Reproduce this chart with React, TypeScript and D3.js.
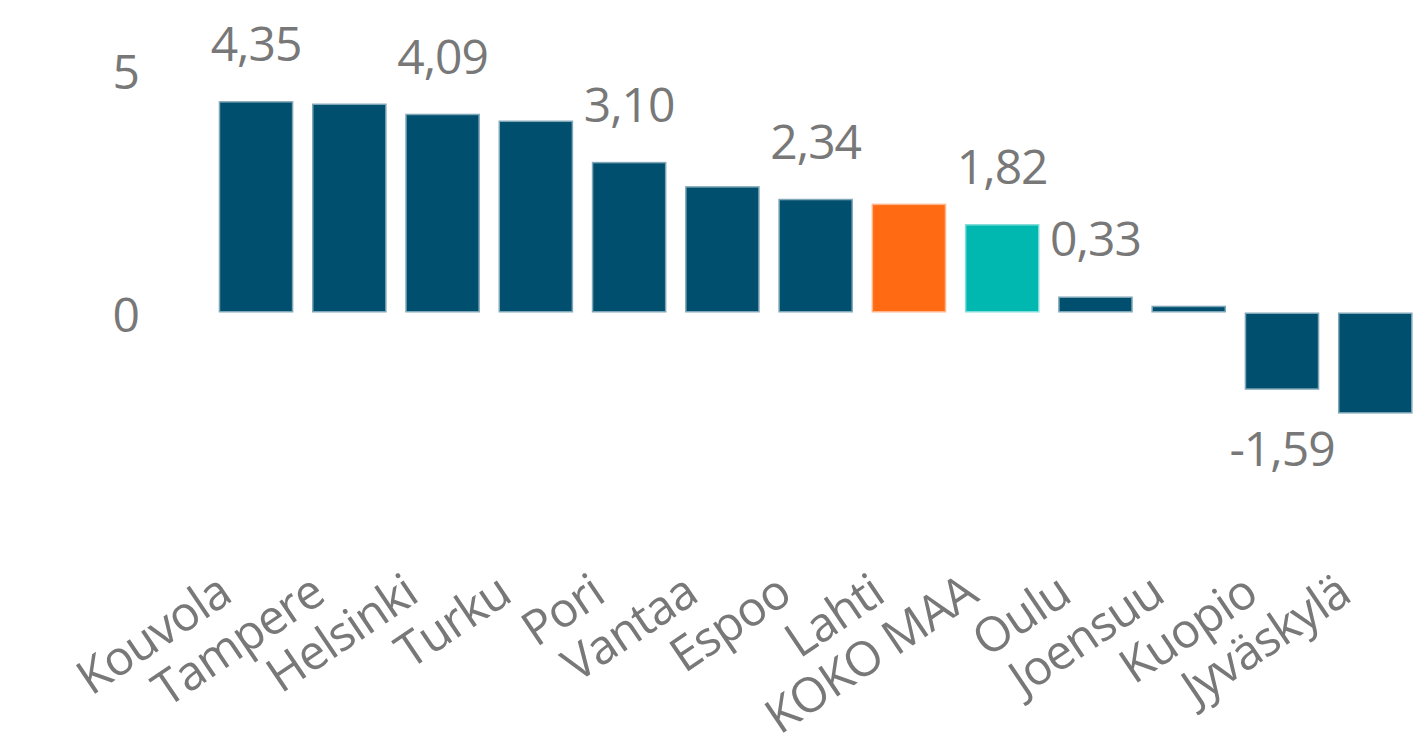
import { useEffect, useRef } from "react";
import * as d3 from "d3";

const WIDTH = 1419;
const HEIGHT = 747;

const categories = [
  "Kouvola",
  "Tampere",
  "Helsinki",
  "Turku",
  "Pori",
  "Vantaa",
  "Espoo",
  "Lahti",
  "KOKO MAA",
  "Oulu",
  "Joensuu",
  "Kuopio",
  "Jyväskylä",
];
const values = [4.35, 4.3, 4.09, 3.95, 3.1, 2.6, 2.34, 2.24, 1.82, 0.33, 0.14, -1.59, -2.08];
// only these bars carry a value label in the original
const labelled = ["Kouvola", "Helsinki", "Pori", "Espoo", "KOKO MAA", "Oulu", "Kuopio"];
const yTicks = [0, 5];

const highlight: Record<string, string> = {
  Lahti: "#ff6a13",
  "KOKO MAA": "#00b8b0",
};
const BASE = "#004f6e";
const TEXT = "#787878";
const FONT = "'Open Sans', 'Noto Sans', sans-serif";

type Datum = { name: string; value: number };

export default function App() {
  const svgRef = useRef<SVGSVGElement | null>(null);

  useEffect(() => {
    if (!svgRef.current) return;
    const svg = d3.select(svgRef.current);
    svg.selectAll("*").remove();

    const data: Datum[] = categories.map((name, i) => ({ name, value: values[i] }));

    const x = d3
      .scaleBand()
      .domain(categories)
      .range([209.4, 1421.9])
      .paddingInner(0.2)
      .paddingOuter(0.1);

    const y = d3.scaleLinear().domain([0, 5]).range([312.5, 69.5]);

    // Bars
    svg
      .append("g")
      .selectAll("rect")
      .data(data)
      .enter()
      .append("rect")
      .attr("x", (d: Datum) => x(d.name) ?? 0)
      .attr("width", x.bandwidth())
      .attr("y", (d: Datum) => y(Math.max(0, d.value)))
      .attr("height", (d: Datum) => Math.abs(y(d.value) - y(0)))
      .attr("fill", (d: Datum) => highlight[d.name] ?? BASE)
      .attr("stroke", "#ffffff")
      .attr("stroke-opacity", 0.5)
      .attr("stroke-width", 3);

    // Value labels
    svg
      .append("g")
      .selectAll("text")
      .data(data.filter((d) => labelled.includes(d.name)))
      .enter()
      .append("text")
      .attr("x", (d: Datum) => (x(d.name) ?? 0) + x.bandwidth() / 2)
      .attr("y", (d: Datum) => (d.value >= 0 ? y(d.value) - 40 : y(d.value) + 76))
      .attr("text-anchor", "middle")
      .attr("fill", TEXT)
      .style("font-family", FONT)
      .style("font-size", "48px")
      .style("letter-spacing", "-1px")
      .text((d: Datum) => d3.format(".2f")(d.value).replace(".", ",").replace("−", "-"));

    // Y axis (labels only)
    svg
      .append("g")
      .attr("transform", "translate(140,0)")
      .call(
        d3
          .axisLeft(y)
          .tickValues(yTicks)
          .tickSize(0)
          .tickPadding(0)
          .tickFormat((v: number) => `${v}`),
      )
      .call((axisG: any) => {
        axisG.select(".domain").remove();
        axisG
          .selectAll("text")
          .attr("dy", "0.4em")
          .attr("fill", TEXT)
          .style("font-family", FONT)
          .style("font-size", "48px");
      });

    // X axis, rotated category labels
    svg
      .append("g")
      .attr("transform", "translate(0,600)")
      .call(d3.axisBottom(x).tickSize(0).tickPadding(0))
      .call((axisG: any) => {
        axisG.select(".domain").remove();
        axisG
          .selectAll("text")
          .attr("y", 0)
          .attr("dy", 0)
          .attr("text-anchor", "end")
          .attr("transform", "translate(-22,0) rotate(-34)")
          .attr("fill", TEXT)
          .style("font-family", FONT)
          .style("font-size", "48px")
          .style("letter-spacing", "-1px");
      });
  }, []);

  return (
    <svg
      ref={svgRef}
      width={WIDTH}
      height={HEIGHT}
      style={{ position: "absolute", left: 0, top: 0, background: "#fff" }}
    />
  );
}
